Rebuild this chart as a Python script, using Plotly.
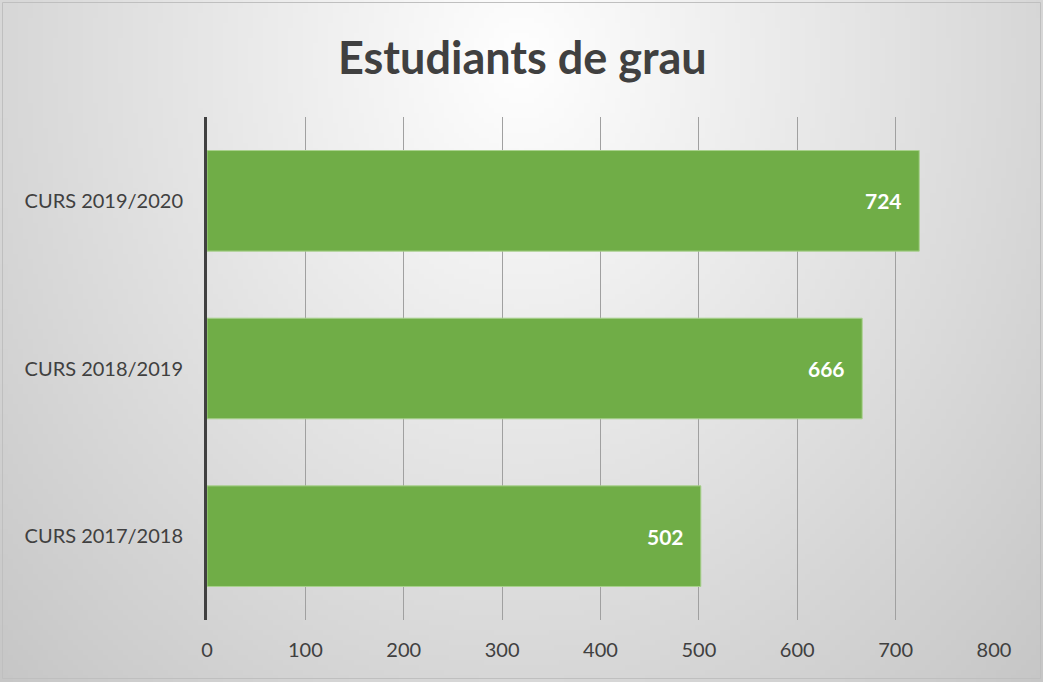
import base64, struct, zlib
import plotly.graph_objects as go

categories = ["CURS 2017/2018", "CURS 2018/2019", "CURS 2019/2020"]
values = [502, 666, 724]
x_ticks = [0, 100, 200, 300, 400, 500, 600, 700, 800]
title_text = "Estudiants de grau"

W, H = 1043, 682
L, R, T, B = 207, 49, 117, 62
PW, PH = W - L - R, H - T - B


def make_bg_png(w, h):
    rows = []
    for j in range(h):
        y = (j + 0.5) / h * H
        row = bytearray()
        for i in range(w):
            x = (i + 0.5) / w * W
            d = (((x - 521) / 521) ** 2 + ((y - 60) / 622) ** 2) ** 0.5
            v = int(max(0, min(255, 255 - 40 * d)))
            row.append(v)
        rows.append(b"\x00" + bytes(row))
    raw = b"".join(rows)

    def chunk(t, data):
        c = struct.pack(">I", len(data)) + t + data
        return c + struct.pack(">I", zlib.crc32(t + data) & 0xFFFFFFFF)

    png = b"\x89PNG\r\n\x1a\n"
    png += chunk(b"IHDR", struct.pack(">IIBBBBB", w, h, 8, 0, 0, 0, 0))
    png += chunk(b"IDAT", zlib.compress(raw, 9))
    png += chunk(b"IEND", b"")
    return "data:image/png;base64," + base64.b64encode(png).decode()


bg = make_bg_png(208, 136)


def px_x(p):
    return (p - L) / PW


def px_y(p):
    return 1 - (p - T) / PH


fig = go.Figure()
fig.add_trace(go.Bar(
    y=categories, x=values, orientation="h",
    marker=dict(color="#70AD47", line=dict(color="#A9D18E", width=1)),
    width=0.6, hoverinfo="x+y",
))

annotations = [
    dict(x=v, y=c, xref="x", yref="y", text=f"<b>{v}</b>", showarrow=False,
         xanchor="right", xshift=-15, font=dict(color="white", size=21, family="Lato"))
    for c, v in zip(categories, values)
]
annotations.append(dict(
    x=px_x(522.5), y=px_y(57), xref="paper", yref="paper", xanchor="center", yanchor="middle",
    text=f"<b>{title_text}</b>", showarrow=False,
    font=dict(size=45, color="#404040", family="Lato"),
))

fig.update_layout(
    width=W, height=H,
    margin=dict(l=L, r=R, t=T, b=B),
    paper_bgcolor="#e0e0e0",
    plot_bgcolor="rgba(0,0,0,0)",
    showlegend=False,
    annotations=annotations,
    images=[dict(source=bg, xref="paper", yref="paper", x=px_x(0), y=px_y(0),
                 sizex=W / PW, sizey=H / PH, sizing="stretch", layer="below",
                 xanchor="left", yanchor="top")],
    shapes=[dict(type="rect", xref="paper", yref="paper",
                 x0=px_x(2.5), x1=px_x(1040.5), y0=px_y(678.5), y1=px_y(2.5),
                 line=dict(color="#bfbfbf", width=1), layer="below")],
    xaxis=dict(range=[0, 800], tickvals=x_ticks, showgrid=True, gridcolor="#a0a0a0",
               gridwidth=1, zeroline=False, showline=False,
               tickfont=dict(size=20, color="#404040", family="Lato"),
               ticklabelstandoff=16, fixedrange=True),
    yaxis=dict(showgrid=False, showline=True, linecolor="#404040", linewidth=3,
               tickfont=dict(size=20, color="#404040", family="Lato"),
               ticklabelstandoff=17, range=[-0.5, 2.5], fixedrange=True),
    bargap=0.4,
)
fig.write_html("out.html", config={"displayModeBar": False},
               post_script="document.body.style.margin='0';document.body.style.padding='0';")
